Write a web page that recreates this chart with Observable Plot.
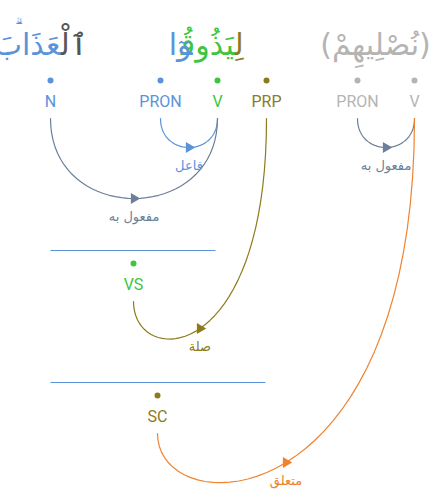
<!DOCTYPE html>
<html><head><meta charset="utf-8">
<script src="https://cdn.jsdelivr.net/npm/d3@7"></script>
<script src="https://cdn.jsdelivr.net/npm/@observablehq/plot@0.6"></script>
<style>body{margin:0;background:#fff}</style>
</head><body><div id="chart"></div>
<script>
const blue = "#5b93db", green = "#3ec43e", olive = "#8c7b1c", gray = "#b4b4b4", slate = "#6b7f99", orange = "#f0822e"
const zwj = "\u200d"

// word segments: text, joining x, anchor, colour
const words = [
  {t: "ٱلْ" + zwj, x: 60, a: "start", c: "#555"},
  {t: zwj + "عَذَابَ", x: 60, a: "end", c: blue},
  {t: "لِ" + zwj, x: 234, a: "start", c: olive},
  {t: zwj + "يَذُوقُ" + zwj, x: 234, a: "end", c: green},
  {t: zwj + "وٓا", x: 192, a: "end", c: blue},
  {t: "(نُصْلِيهِمْ)", x: 375, a: "middle", c: gray}
]
// nodes: label, x, y of dot, colour
const nodes = [
  {n: "N", x: 50, y: 80, c: blue},
  {n: "PRON", x: 160, y: 80, c: blue},
  {n: "V", x: 217, y: 80, c: green},
  {n: "PRP", x: 266, y: 80, c: olive},
  {n: "PRON", x: 357, y: 80, c: gray},
  {n: "V", x: 414, y: 80, c: gray},
  {n: "VS", x: 133, y: 263, c: green},
  {n: "SC", x: 157, y: 395, c: olive}
]
// edges: from node, to node, lowest y, label, colour
const edges = [
  {a: 1, b: 2, low: 147, l: "فاعل", c: blue},
  {a: 0, b: 2, low: 198, l: "مفعول به", c: slate},
  {a: 4, b: 5, low: 147, l: "مفعول به", c: slate},
  {a: 6, b: 3, low: 328, l: "صلة", c: olive},
  {a: 7, b: 5, low: 462, l: "متعلق", c: orange}
]
// horizontal bars under phrase nodes
const bars = [
  {x1: 50, x2: 215, y: 250},
  {x1: 50, x2: 265, y: 382}
]

const paths = [], arrows = []
edges.forEach((e, i) => {
  const A = nodes[e.a], B = nodes[e.b]
  const y0 = A.y + 38, y3 = B.y + 38
  const cy = (e.low - (y0 + y3) / 8) / 0.75
  for (let k = 0; k <= 40; k++) {
    const t = k / 40, u = 1 - t
    paths.push({i, c: e.c,
      x: u*u*u*A.x + 3*u*u*t*A.x + 3*u*t*t*B.x + t*t*t*B.x,
      y: u*u*u*y0 + 3*u*u*t*cy + 3*u*t*t*cy + t*t*t*y3})
  }
  arrows.push({x: (A.x + B.x) / 2, y: e.low, l: e.l, c: e.c})
})

const chart = Plot.plot({
  width: 431, height: 491, margin: 0,
  x: {domain: [0, 431], range: [0, 431], axis: null},
  y: {domain: [0, 491], range: [0, 491], axis: null},
  style: {fontFamily: "DejaVu Sans"},
  marks: [
    ...["start", "end", "middle"].map(a => Plot.text(words.filter(w => w.a === a), {x: "x", y: 45, text: "t", fill: "c", fontSize: 30, textAnchor: a, fontFamily: "DejaVu Sans"})),
    Plot.text(["ۗ"], {x: 14, y: 28, text: d => d, fill: blue, fontSize: 18}),
    Plot.link(bars, {x1: "x1", x2: "x2", y1: "y", y2: "y", stroke: blue, strokeWidth: 1.2}),
    Plot.line(paths, {x: "x", y: "y", z: "i", stroke: "c", strokeWidth: 1.2, curve: "linear"}),
    Plot.dot(arrows, {x: "x", y: "y", symbol: "triangle", rotate: 90, r: 4, fill: "c"}),
    Plot.text(arrows, {x: "x", y: d => d.y + 18, text: "l", fill: "c", fontSize: 13}),
    Plot.dot(nodes, {x: "x", y: "y", r: 3, fill: "c"}),
    Plot.text(nodes, {x: "x", y: d => d.y + 21, text: "n", fill: "c", fontSize: 16, fontFamily: "Roboto"})
  ]
})
d3.select("#chart").append(() => chart)
</script></body></html>
